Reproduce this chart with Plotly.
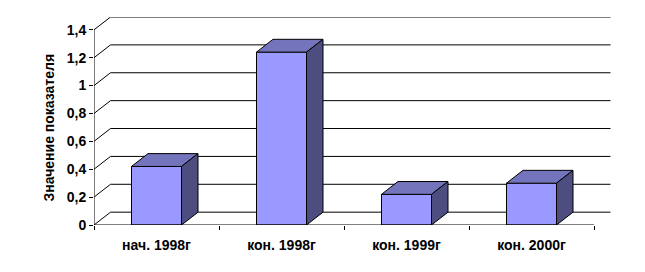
import plotly.graph_objects as go

categories = ["нач. 1998г", "кон. 1998г", "кон. 1999г", "кон. 2000г"]
values = [0.42, 1.24, 0.22, 0.30]
y_ticks = [0, 0.2, 0.4, 0.6, 0.8, 1.0, 1.2, 1.4]
y_title = "Значение показателя"

FRONT = "#9999FF"
TOP = "#7474BC"
SIDE = "#4D4D80"
FAMILY = "Liberation Sans, Arial, sans-serif"
FS = 14

DX = 0.132   # depth offset in category units
DY = 0.092   # depth offset in value units
BW = 0.4     # bar width

xs = list(range(len(categories)))
x0, x1 = -0.5, len(categories) - 0.5
ymax = y_ticks[-1]

fig = go.Figure()

fig.add_trace(go.Bar(x=xs, y=values, width=BW,
                     marker=dict(color=FRONT, line=dict(color="black", width=1)),
                     hoverinfo="skip", showlegend=False))

for xi, v in zip(xs, values):
    l, r = xi - BW / 2, xi + BW / 2
    fig.add_trace(go.Scatter(x=[l, r, r + DX, l + DX, l], y=[v, v, v + DY, v + DY, v],
                             mode="lines", fill="toself", fillcolor=TOP,
                             line=dict(color="black", width=1), hoverinfo="skip", showlegend=False))
    fig.add_trace(go.Scatter(x=[r, r + DX, r + DX, r, r], y=[0, DY, v + DY, v, 0],
                             mode="lines", fill="toself", fillcolor=SIDE,
                             line=dict(color="black", width=1), hoverinfo="skip", showlegend=False))

shapes = []
for t in y_ticks:
    shapes.append(dict(type="line", x0=x0 + DX, x1=x1 + DX, y0=t + DY, y1=t + DY,
                       line=dict(color="black", width=1), layer="below"))
    shapes.append(dict(type="line", x0=x0, x1=x0 + DX, y0=t, y1=t + DY,
                       line=dict(color="black", width=1), layer="below"))
shapes.append(dict(type="line", x0=x0, x1=x0, y0=0, y1=ymax,
                   line=dict(color="black", width=1), layer="above"))
shapes.append(dict(type="line", x0=x0, x1=x1, y0=0, y1=0,
                   line=dict(color="black", width=1), layer="above"))

bold = dict(family=FAMILY, size=FS, color="black", weight="bold")

fig.update_layout(
    width=645, height=272,
    margin=dict(l=94, r=34, t=17, b=47),
    paper_bgcolor="white", plot_bgcolor="white",
    separators=", ",
    font=bold,
    shapes=shapes,
    showlegend=False,
    xaxis=dict(range=[x0, x1 + DX + 0.004], tickvals=xs, ticktext=categories,
               ticks="outside", ticklen=7, tickcolor="rgba(0,0,0,0)",
               showgrid=False, zeroline=False, showline=False,
               tickfont=bold,
               minor=dict(tickmode="linear", tick0=x0, dtick=1, ticks="outside",
                          ticklen=4, tickcolor="black", showgrid=False)),
    yaxis=dict(range=[0, ymax + DY], tickvals=y_ticks, ticks="outside", ticklen=4,
               tickcolor="black", showgrid=False, zeroline=False, showline=False,
               tickfont=bold),
    annotations=[dict(text=y_title, xref="paper", yref="paper",
                      x=(48 - 94) / 517, y=(225 - 127.5) / 208, textangle=-90,
                      showarrow=False, xanchor="center", yanchor="middle",
                      font=bold)],
)

fig.write_html("out.html")
